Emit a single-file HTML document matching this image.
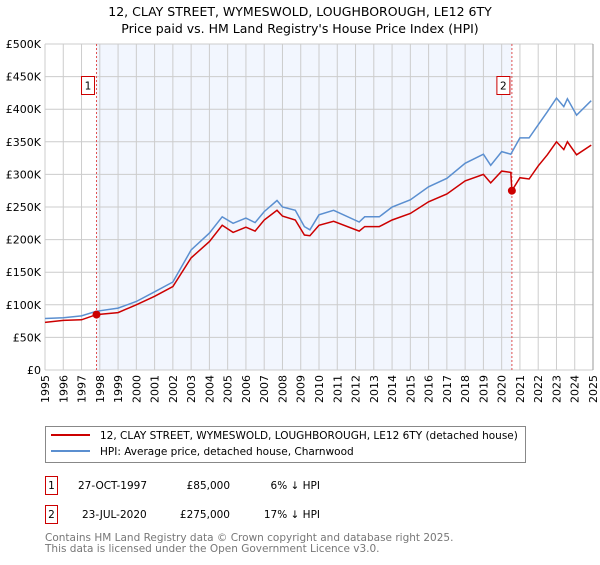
<!DOCTYPE html>
<html><head><meta charset="utf-8"><style>
body{margin:0;background:#fff;font-family:"Liberation Sans","DejaVu Sans",sans-serif;}
svg text{font-family:"DejaVu Sans","Liberation Sans",sans-serif;}
</style></head><body>
<svg id="chart" width="600" height="560" xmlns="http://www.w3.org/2000/svg">
<text x="300" y="16" text-anchor="middle" font-size="12.5" fill="#000">12, CLAY STREET, WYMESWOLD, LOUGHBOROUGH, LE12 6TY</text>
<text x="300" y="33" text-anchor="middle" font-size="12.5" fill="#000">Price paid vs. HM Land Registry's House Price Index (HPI)</text>
<g id="plot"></g>
<g>
<rect x="45.5" y="426.5" width="480" height="36" fill="#fff" stroke="#888"/>
<line x1="51" y1="435" x2="90" y2="435" stroke="#cc0000" stroke-width="2"/>
<text x="100" y="439" font-size="10.5">12, CLAY STREET, WYMESWOLD, LOUGHBOROUGH, LE12 6TY (detached house)</text>
<line x1="51" y1="451" x2="90" y2="451" stroke="#5b8fd0" stroke-width="2"/>
<text x="100" y="455" font-size="10.5">HPI: Average price, detached house, Charnwood</text>
</g>
<g font-size="10.5">
<rect x="45.5" y="476.5" width="12" height="18" fill="#fff" stroke="#cc0000"/>
<text x="51.5" y="489" text-anchor="middle">1</text>
<text x="78" y="489">27-OCT-1997</text><text x="230" y="489" text-anchor="end">£85,000</text><text x="320" y="489" text-anchor="end">6% ↓ HPI</text>
<rect x="45.5" y="505.5" width="12" height="18" fill="#fff" stroke="#cc0000"/>
<text x="51.5" y="518" text-anchor="middle">2</text>
<text x="82" y="518">23-JUL-2020</text><text x="230" y="518" text-anchor="end">£275,000</text><text x="320" y="518" text-anchor="end">17% ↓ HPI</text>
</g>
<text x="45" y="541" font-size="10.5" fill="#777">Contains HM Land Registry data © Crown copyright and database right 2025.</text>
<text x="45" y="552" font-size="10.5" fill="#777">This data is licensed under the Open Government Licence v3.0.</text>
</svg>
<script>
const yTicks=[0,50000,100000,150000,200000,250000,300000,350000,400000,450000,500000];
const yTickLabels=["£0","£50K","£100K","£150K","£200K","£250K","£300K","£350K","£400K","£450K","£500K"];
const xYears=[1995,1996,1997,1998,1999,2000,2001,2002,2003,2004,2005,2006,2007,2008,2009,2010,2011,2012,2013,2014,2015,2016,2017,2018,2019,2020,2021,2022,2023,2024,2025];
const hpiT=[1995,1996,1997,1997.8,1999,2000,2001,2002,2003,2004,2004.7,2005.3,2006,2006.5,2007,2007.7,2008,2008.7,2009.2,2009.5,2010,2010.8,2012.2,2012.5,2013.3,2014,2015,2016,2017,2018,2019,2019.4,2020,2020.5,2021,2021.5,2022,2022.5,2023,2023.4,2023.6,2024.1,2024.9];
const hpiV=[79000,80000,83000,90000,95000,105000,120000,135000,184000,210000,235000,225000,233000,226000,243000,260000,250000,245000,220000,215000,238000,245000,227000,235000,235000,250000,261000,281000,294000,317000,331000,314000,335000,331000,356000,356000,376000,396000,417000,404000,416000,391000,413000];
const ppT=[1995,1996,1997,1997.82,1999,2000,2001,2002,2003,2004,2004.7,2005.3,2006,2006.5,2007,2007.7,2008,2008.7,2009.2,2009.5,2010,2010.8,2012.2,2012.5,2013.3,2014,2015,2016,2017,2018,2019,2019.4,2020,2020.5,2020.56,2021,2021.5,2022,2022.5,2023,2023.4,2023.6,2024.1,2024.9];
const ppV=[73000,76000,77000,85000,88000,100000,113000,128000,172000,197000,222000,211000,219000,213000,230000,245000,236000,230000,207000,206000,222000,228000,213000,220000,220000,230000,240000,258000,270000,290000,300000,287000,305000,303000,275000,295000,293000,313000,330000,350000,338000,350000,330000,345000];
const saleT=[1997.82,2020.56];
const saleV=[85000,275000];
const saleLabels=["1","2"];
const X0=45,X1=593,Y0=370,Y1=44;
const sx=t=>X0+(t-1995)/30*(X1-X0);
const sy=v=>Y0-v/500000*(Y0-Y1);
const NS="http://www.w3.org/2000/svg";
const g=document.getElementById('plot');
function mk(tag,attrs,parent){const e=document.createElementNS(NS,tag);for(const k in attrs)e.setAttribute(k,attrs[k]);(parent||g).appendChild(e);return e;}
let r=mk('rect',{x:sx(saleT[0]),y:Y1,width:sx(saleT[1])-sx(saleT[0]),height:Y0-Y1,fill:'#f2f6fe'});


xYears.forEach(y=>{const l=mk('line',{x1:sx(y),x2:sx(y),y1:Y1,y2:Y0,stroke:'#ccc','stroke-width':1});


const px=sx(y)+4,py=Y0+5;
const t=mk('text',{x:px,y:py,'text-anchor':'end','font-size':11,transform:'rotate(-90 '+px+' '+py+')'});t.textContent=y;

});
yTicks.forEach((v,i)=>{const l=mk('line',{x1:X0,x2:X1,y1:sy(v),y2:sy(v),stroke:'#ccc','stroke-width':1});


const t=mk('text',{x:X0-4,y:sy(v)+4,'text-anchor':'end','font-size':11});t.textContent=yTickLabels[i];

});
saleT.forEach((t,i)=>{const l=mk('line',{x1:sx(t),x2:sx(t),y1:Y1,y2:Y0,stroke:'#e05050','stroke-width':1,'stroke-dasharray':'2,2'});

});
function path(T,V,col,name){const d=T.map((t,i)=>(i?'L':'M')+sx(t).toFixed(1)+','+sy(V[i]).toFixed(1)).join('');
const p=mk('path',{d:d,fill:'none',stroke:col,'stroke-width':1.5});

}
path(hpiT,hpiV,'#5b8fd0','hpi-line');
path(ppT,ppV,'#cc0000','price-paid-line');
saleT.forEach((t,i)=>{const c=mk('circle',{cx:sx(t),cy:sy(saleV[i]),r:4,fill:'#cc0000'});


const bx=sx(t)-15;
const b=mk('rect',{x:bx,y:76.5,width:13,height:18,fill:'#fff',stroke:'#cc0000'});


const tx=mk('text',{x:bx+6.5,y:89.5,'text-anchor':'middle','font-size':10.5});tx.textContent=saleLabels[i];

});
const ax=mk('line',{x1:X1,x2:X1,y1:Y1,y2:Y0,stroke:'#999'});


</script>
</body></html>
